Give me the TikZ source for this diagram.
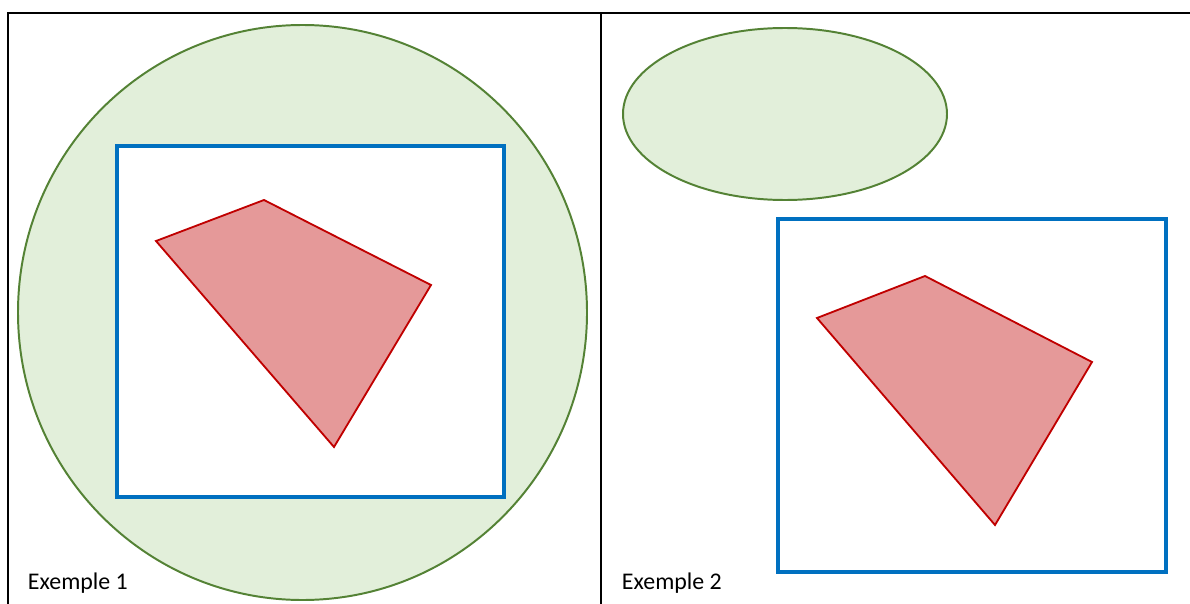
\documentclass[tikz,border=0pt]{standalone}
\usepackage{fontspec}
\setmainfont{Carlito}
\usepackage{tikz}
\usetikzlibrary{positioning}
\definecolor{zonegreen}{HTML}{E2EFDA}
\definecolor{zoneline}{HTML}{548235}
\definecolor{boxblue}{HTML}{0070C0}
\definecolor{polyred}{HTML}{C00000}
\definecolor{polyfill}{HTML}{E59999}

\begin{document}
\begin{tikzpicture}[x=0.025cm, y=-0.025cm]
  \useasboundingbox (0,0) rectangle (1190,604);
  % Frame
  \draw[line width=1.5pt, black] (8,604) -- (8,13) -- (1190,13);
  \draw[line width=1.5pt, black] (601,13) -- (601,604);

  % Example 1
  \draw[line width=1.4pt, draw=zoneline, fill=zonegreen] (302.5,312.5) ellipse [x radius=284.5, y radius=287.5];
  \draw[line width=2.3pt, draw=boxblue, fill=white] (117,146) rectangle (504,497);
  \draw[line width=1.3pt, draw=polyred, fill=polyfill] (156,241) -- (264,200) -- (431,285) -- (334,447) -- cycle;
  \node[anchor=west, font=\fontsize{17}{19}\selectfont] (lab1) at (23,583) {Exemple 1};

  % Example 2
  \draw[line width=1.4pt, draw=zoneline, fill=zonegreen] (785,114) ellipse [x radius=162, y radius=86];
  \draw[line width=2.3pt, draw=boxblue, fill=white] (778,219) rectangle (1166,572);
  \draw[line width=1.3pt, draw=polyred, fill=polyfill] (817,318) -- (925,276) -- (1092,362) -- (995,525) -- cycle;
  \node[anchor=west, font=\fontsize{17}{19}\selectfont] (lab2) at (617,583) {Exemple 2};
\end{tikzpicture}
\end{document}
